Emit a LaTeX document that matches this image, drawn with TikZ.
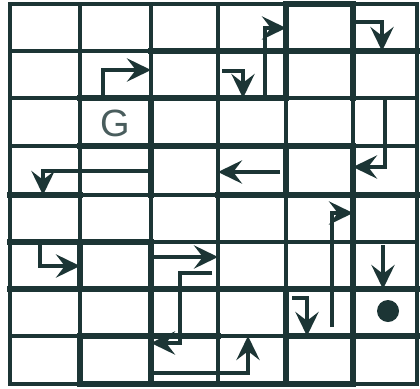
\documentclass[tikz,border=0pt]{standalone}
\usepackage{fontspec}
\setsansfont{Liberation Sans}
\usetikzlibrary{arrows.meta}
\definecolor{mazeInk}{HTML}{1C3535}
\definecolor{paperBg}{HTML}{FFFFFF}

\begin{document}
\begin{tikzpicture}[x=0.025cm, y=-0.025cm,
    wall/.style={draw=mazeInk, line width=2.9pt, line cap=rect},
    thickwall/.style={draw=mazeInk, line width=4.3pt, line cap=rect},
    move/.style={-{Stealth[length=6mm, width=5.8mm, inset=2.2mm]}, draw=mazeInk, line width=2.5pt},
    goal/.style={font=\sffamily\fontsize{27}{27}\selectfont, text=mazeInk!80, inner sep=0pt},
    ball/.style={circle, fill=mazeInk, minimum size=0.55cm, inner sep=0pt},
]
\fill[paperBg] (0,0) rectangle (420,388);
\useasboundingbox (0,0) rectangle (420,388);
\foreach \x in {10,80,151,218,286,353,417}
  \draw[wall] (\x,4) -- (\x,384);
\foreach \y in {4,51,98,146,195,242,289,336,384}
  \draw[wall] (10,\y) -- (417,\y);
% heavier walls
\draw[thickwall] (151,51) -- (417,51) (80,98) -- (286,98) (80,146) -- (353,146)
  (10,195) -- (80,195) (218,195) -- (417,195) (10,242) -- (151,242)
  (10,289) -- (417,289) (80,336) -- (218,336) (286,336) -- (417,336)
  (80,384) -- (353,384) (286,4) -- (353,4);
\draw[thickwall] (80,242) -- (80,289) (80,336) -- (80,384)
  (151,98) -- (151,195) (151,242) -- (151,384)
  (286,4) -- (286,98) (286,146) -- (286,195) (286,289) -- (286,384)
  (353,4) -- (353,98) (353,146) -- (353,384);
\node[goal] (goalG) at (115,123) {G};
\node[ball] (ballDot) at (388,311) {};
\draw[move] (103,98) -- (103,70) -- (151,70);
\draw[move] (222,71) -- (243,71) -- (243,98);
\draw[move] (265,98) -- (265,28) -- (286,28);
\draw[move] (353,22) -- (382,22) -- (382,51);
\draw[move] (385,98) -- (385,167) -- (353,167);
\draw[move] (280,172) -- (218,172);
\draw[move] (148,171) -- (43,171) -- (43,195);
\draw[move] (40,242) -- (40,266) -- (80,266);
\draw[move] (154,257) -- (218,257);
\draw[move] (212,273) -- (180,273) -- (180,343) -- (151,343);
\draw[move] (154,373) -- (248,373) -- (248,336);
\draw[move] (332,327) -- (332,213) -- (353,213);
\draw[move] (292,298) -- (307,298) -- (307,336);
\draw[move] (383,245) -- (383,289);
\end{tikzpicture}
\end{document}
